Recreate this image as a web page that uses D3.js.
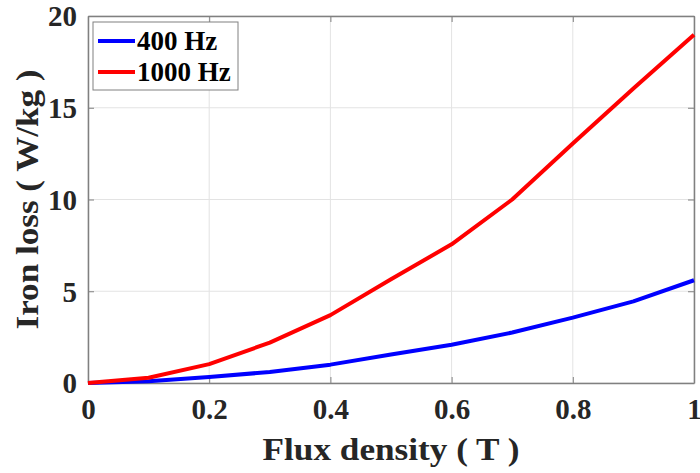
<!DOCTYPE html>
<html>
<head>
<meta charset="utf-8">
<script src="https://cdn.jsdelivr.net/npm/d3@7"></script>
<style>
  body { margin: 0; background: #fff; }
  text { font-family: "Liberation Serif", "Times New Roman", serif; font-weight: bold; fill: #262626; }
</style>
</head>
<body>
<div id="chart"></div>
<script>
// Data
var flux = [0, 0.1, 0.2, 0.3, 0.4, 0.5, 0.6, 0.7, 0.8, 0.9, 1.0];
var loss400 = [0, 0.1, 0.33, 0.6, 1.0, 1.55, 2.08, 2.75, 3.56, 4.45, 5.6];
var loss1000 = [0, 0.29, 1.03, 2.2, 3.7, 5.65, 7.56, 10.0, 13.05, 16.05, 18.98];
var xTicks = [0, 0.2, 0.4, 0.6, 0.8, 1];
var yTicks = [0, 5, 10, 15, 20];
var seriesNames = ["400 Hz", "1000 Hz"];
var seriesColors = ["#0000ff", "#ff0000"];

var serif = "'Liberation Serif', 'Times New Roman', serif";

var svg = d3.select("#chart").append("svg")
  .attr("width", 700)
  .attr("height", 473);

var margin = { top: 16, right: 6, bottom: 90, left: 88 };
var width = 700 - margin.left - margin.right;
var height = 473 - margin.top - margin.bottom;

var x = d3.scaleLinear().domain([0, 1]).range([0, width]);
var y = d3.scaleLinear().domain([0, 20]).range([height, 0]);

var g = svg.append("g")
  .attr("transform", "translate(" + margin.left + "," + margin.top + ")");

// grid
g.selectAll(".vgrid").data(xTicks).enter().append("line")
  .attr("x1", function (d) { return x(d); })
  .attr("x2", function (d) { return x(d); })
  .attr("y1", 0).attr("y2", height)
  .attr("stroke", "#e3e3e3").attr("stroke-width", 1);
g.selectAll(".hgrid").data(yTicks).enter().append("line")
  .attr("y1", function (d) { return y(d); })
  .attr("y2", function (d) { return y(d); })
  .attr("x1", 0).attr("x2", width)
  .attr("stroke", "#e3e3e3").attr("stroke-width", 1);

// axes (ticks pointing inward, box on all sides)
var fmt = function (d) { return d3.format("")(d); };
var axisStyle = function (sel) {
  sel.attr("font-family", serif).attr("font-size", null);
  sel.select(".domain").attr("stroke", "#808080").attr("stroke-width", 1.5);
  sel.selectAll(".tick line").attr("stroke", "#808080");
  sel.selectAll(".tick text")
    .style("font-family", serif)
    .style("font-weight", "bold")
    .style("font-size", "29px")
    .style("fill", "#262626");
};

g.append("g")
  .attr("transform", "translate(0," + height + ")")
  .call(d3.axisBottom(x).tickValues(xTicks).tickFormat(fmt).tickSizeInner(-6).tickSizeOuter(0).tickPadding(15))
  .call(axisStyle);
g.append("g")
  .call(d3.axisLeft(y).tickValues(yTicks).tickSizeInner(-6).tickSizeOuter(0).tickPadding(11))
  .call(axisStyle)
  .selectAll(".tick text").attr("dy", "0.34em");
g.append("g")
  .call(d3.axisTop(x).tickValues(xTicks).tickFormat("").tickSizeInner(-6).tickSizeOuter(0))
  .call(axisStyle);
g.append("g")
  .attr("transform", "translate(" + width + ",0)")
  .call(d3.axisRight(y).tickValues(yTicks).tickFormat("").tickSizeInner(-6).tickSizeOuter(0))
  .call(axisStyle);

// lines
var line = d3.line()
  .x(function (d) { return x(d[0]); })
  .y(function (d) { return y(d[1]); });

[loss400, loss1000].forEach(function (vals, i) {
  g.append("path")
    .datum(flux.map(function (f, j) { return [f, vals[j]]; }))
    .attr("fill", "none")
    .attr("stroke", seriesColors[i])
    .attr("stroke-width", 4)
    .attr("stroke-linejoin", "round")
    .attr("d", line);
});

// axis titles
svg.append("text")
  .attr("x", margin.left + width / 2)
  .attr("y", 460)
  .attr("text-anchor", "middle")
  .style("font-size", "32px")
  .attr("textLength", 257)
  .attr("lengthAdjust", "spacingAndGlyphs")
  .text("Flux density ( T )");

svg.append("text")
  .attr("transform", "translate(38," + (margin.top + height / 2) + ") rotate(-90)")
  .attr("text-anchor", "middle")
  .style("font-size", "32px")
  .attr("textLength", 260)
  .attr("lengthAdjust", "spacingAndGlyphs")
  .text("Iron loss ( W/kg )");

// legend
var legend = svg.append("g").attr("transform", "translate(93,22)");
legend.append("rect")
  .attr("width", 145).attr("height", 68)
  .attr("fill", "#fff").attr("stroke", "#808080").attr("stroke-width", 1);
seriesNames.forEach(function (name, i) {
  var ly = 19 + i * 31;
  legend.append("line")
    .attr("x1", 5).attr("x2", 42)
    .attr("y1", ly).attr("y2", ly)
    .attr("stroke", seriesColors[i]).attr("stroke-width", 4);
  legend.append("text")
    .attr("x", 44).attr("y", ly + 8.5)
    .style("font-size", "27px")
    .style("fill", "#000")
    .text(name);
});
</script>
</body>
</html>
